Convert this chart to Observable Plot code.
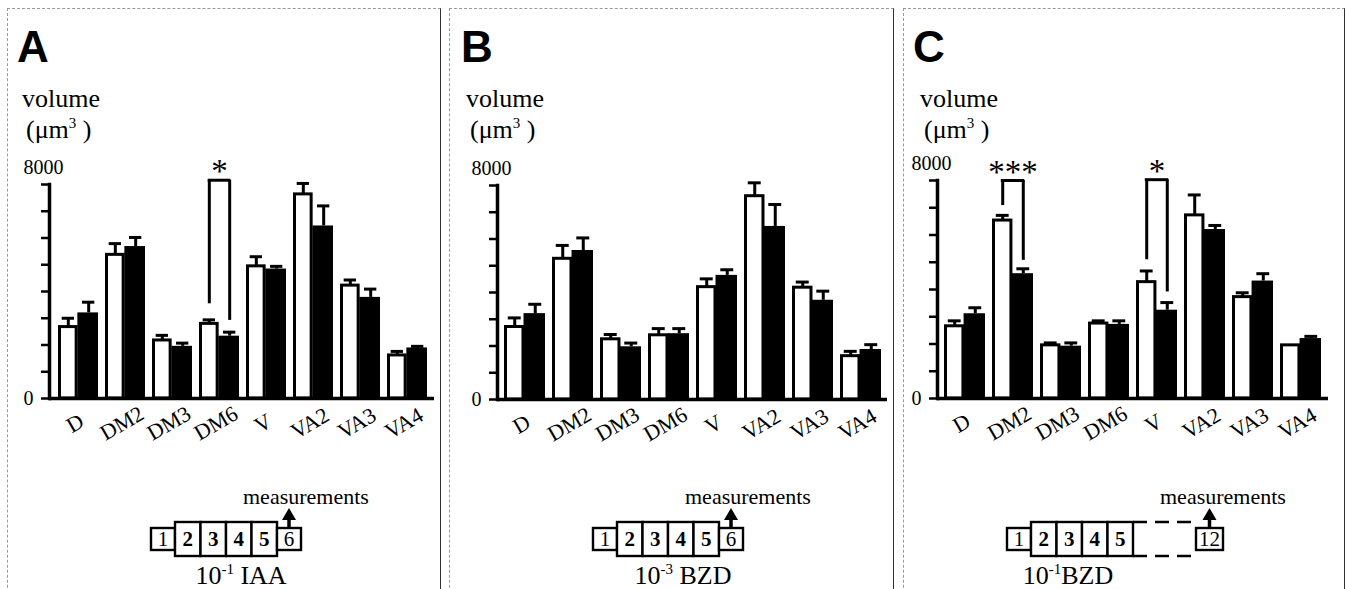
<!DOCTYPE html>
<html>
<head>
<meta charset="utf-8">
<script src="https://cdn.jsdelivr.net/npm/d3@7"></script>
<script src="https://cdn.jsdelivr.net/npm/@observablehq/plot@0.6"></script>
<style>
  html, body { margin: 0; padding: 0; background: #fff; }
  #root { position: relative; width: 1346px; height: 589px; overflow: hidden; background: #fff; }
  .frame { position: absolute; top: 8px; height: 640px; box-sizing: border-box;
           border-top: 1px dashed #9a9a9a; border-left: 1px dashed #9a9a9a; border-right: 1.5px solid #333; }
  .abs { position: absolute; }
</style>
</head>
<body>
<div id="root"></div>
<script>
// ---------------- data ----------------
const categories = ["D", "DM2", "DM3", "DM6", "V", "VA2", "VA3", "VA4"];
const yTicks = [0, 1000, 2000, 3000, 4000, 5000, 6000, 7000, 8000];
const yLabelValues = [0, 8000];

// Panel A: 10^-1 IAA
const A_white    = [2670, 5370, 2170, 2790, 4940, 7630, 4220, 1610];
const A_whiteSem = [ 330,  420,  190,  150,  360,  410,  210,  150];
const A_black    = [3200, 5680, 1950, 2330, 4840, 6450, 3780, 1890];
const A_blackSem = [ 400,  340,  120,  150,  100,  750,  310,   60];
const A_brackets = [{cat: "DM6", top: 8160, left: 3540, right: 2920, label: "*"}];

// Panel B: 10^-3 BZD
const B_white    = [2710, 5260, 2250, 2400, 4200, 7600, 4180, 1620];
const B_whiteSem = [ 340,  500,  180,  250,  310,  500,  210,  180];
const B_black    = [3210, 5570, 1970, 2460, 4640, 6470, 3710, 1870];
const B_blackSem = [ 350,  470,  140,  190,  210,  820,  340,  180];
const B_brackets = [];

// Panel C: 10^-1 BZD
const C_white    = [2650, 6530, 1950, 2750, 4270, 6720, 3720, 1950];
const C_whiteSem = [ 200,  190,   90,  100,  410,  750,  160,    0];
const C_black    = [3110, 4580, 1920, 2720, 3240, 6200, 4310, 2200];
const C_blackSem = [ 220,  180,  120,  130,  280,  150,  270,   80];
const C_brackets = [
  {cat: "DM2", top: 8000, left: 7080, right: 5070, label: "***"},
  {cat: "V",   top: 8030, left: 5090, right: 3910, label: "*"}
];

const panelLetters = ["A", "B", "C"];
const stepsShort = ["1", "2", "3", "4", "5", "6"];
const stepsLong  = ["1", "2", "3", "4", "5", "...", "12"];
const treatments = [
  {base: "10", exp: "-1", rest: " IAA"},
  {base: "10", exp: "-3", rest: " BZD"},
  {base: "10", exp: "-1", rest: "BZD"}
];
const yUnitLabel = "volume";
const arrowLabel = "measurements";

// ---------------- layout (page coordinates) ----------------
const SERIF = "Liberation Serif, Times New Roman, serif";
const SANS = "Liberation Sans, Arial, sans-serif";
const PLOT_TOP = 140, PLOT_H = 320;

const panels = [
  {letter: panelLetters[0], left: 7,   width: 434, axisX: 49,  barsL: 54,  barsR: 430,  axisEnd: 434,  top8000: 184, zero: 398,
   white: A_white, whiteSem: A_whiteSem, black: A_black, blackSem: A_blackSem, brackets: A_brackets,
   steps: stepsShort, treat: treatments[0], diagX: 151, measX: 243, treatX: 241, letterX: 17, volX: 22},
  {letter: panelLetters[1], left: 449, width: 445, axisX: 497, barsL: 503, barsR: 882,  axisEnd: 887,  top8000: 185, zero: 399,
   white: B_white, whiteSem: B_whiteSem, black: B_black, blackSem: B_blackSem, brackets: B_brackets,
   steps: stepsShort, treat: treatments[1], diagX: 593, measX: 685, treatX: 683, letterX: 461, volX: 466},
  {letter: panelLetters[2], left: 903, width: 442, axisX: 937, barsL: 942, barsR: 1322, axisEnd: 1328, top8000: 180, zero: 398,
   white: C_white, whiteSem: C_whiteSem, black: C_black, blackSem: C_blackSem, brackets: C_brackets,
   steps: stepsLong, treat: treatments[2], diagX: 1007, measX: 1160, treatX: 1068, letterX: 913, volX: 920}
];

const root = document.getElementById("root");

function makePlot(p) {
  const xRange = [p.barsL - p.left, p.barsR - p.left];
  const xs = d3.scaleBand(categories, xRange).paddingInner(0.15).paddingOuter(0);
  const bw = xs.bandwidth();
  const q = bw / 4;
  const cap = 6.5;
  const whiteRows = categories.map((c, i) => ({cat: c, value: p.white[i], sem: p.whiteSem[i]}));
  const blackRows = categories.map((c, i) => ({cat: c, value: p.black[i], sem: p.blackSem[i]}));
  const sw = 3;

  return Plot.plot({
    width: p.width,
    height: PLOT_H,
    marginLeft: p.axisX - p.left,
    marginRight: p.left + p.width - p.axisEnd,
    marginTop: p.top8000 - PLOT_TOP,
    marginBottom: PLOT_TOP + PLOT_H - p.zero,
    style: {fontFamily: SERIF, fontSize: "20px", background: "transparent", overflow: "visible", color: "#000"},
    x: {domain: categories, range: xRange, paddingInner: 0.15, paddingOuter: 0, axis: null},
    y: {domain: [0, 8000], axis: null},
    marks: [
      // bars
      Plot.barY(blackRows, {x: "cat", y: "value", fill: "#000", insetLeft: bw / 2 - 1}),
      Plot.barY(whiteRows, {x: "cat", y: "value", fill: "#fff", stroke: "#000", strokeWidth: sw, insetRight: bw / 2 + sw / 2, insetLeft: sw / 2}),
      // error bars
      Plot.ruleX(whiteRows.filter(d => d.sem > 0), {x: "cat", y1: "value", y2: d => d.value + d.sem, dx: -q, strokeWidth: sw}),
      Plot.tickY(whiteRows.filter(d => d.sem > 0), {x: "cat", y: d => d.value + d.sem, insetLeft: q - cap, insetRight: bw - q - cap, strokeWidth: sw}),
      Plot.ruleX(blackRows, {x: "cat", y1: "value", y2: d => d.value + d.sem, dx: q, strokeWidth: sw}),
      Plot.tickY(blackRows, {x: "cat", y: d => d.value + d.sem, insetLeft: bw - q - cap, insetRight: q - cap, strokeWidth: sw}),
      // significance brackets
      Plot.ruleX(p.brackets, {x: "cat", y1: "left", y2: "top", dx: -q, strokeWidth: sw}),
      Plot.ruleX(p.brackets, {x: "cat", y1: "right", y2: "top", dx: q, strokeWidth: sw}),
      Plot.tickY(p.brackets, {x: "cat", y: "top", insetLeft: q - sw / 2, insetRight: q - sw / 2, strokeWidth: sw}),
      Plot.text(p.brackets, {x: "cat", y: "top", text: "label", lineAnchor: "bottom", dy: 2, fontSize: 33, fontFamily: SERIF}),
      // axes
      Plot.ruleY([0], {strokeWidth: 3.5}),
      Plot.frame({anchor: "left", strokeWidth: 3.5}),
      Plot.axisY({ticks: yTicks, tickSize: 8, tickPadding: 8, strokeWidth: 2.5,
                  tickFormat: d => (d === yLabelValues[0] ? String(d) : ""), fontSize: 20}),
      Plot.text(yLabelValues.filter(v => v > 0), {y: d => d, text: d => String(d), frameAnchor: "left",
                  textAnchor: "start", lineAnchor: "bottom", dx: -26, dy: -11, fontSize: 20}),
      // category labels
      Plot.text(categories, {x: d => d, frameAnchor: "bottom", text: d => d, rotate: -30,
                  textAnchor: "middle", dy: 31, fontSize: 22})
    ]
  });
}

function makeOverlay(p) {
  const svg = d3.create("svg")
    .attr("width", p.width).attr("height", 589)
    .attr("font-family", SERIF)
    .style("position", "absolute").style("left", p.left + "px").style("top", "0px")
    .style("overflow", "visible");
  const L = p.left;
  svg.append("text").attr("x", p.letterX - L).attr("y", 62)
    .attr("font-family", SANS).attr("font-weight", "bold").attr("font-size", 44).text(p.letter);
  svg.append("text").attr("x", p.volX - L).attr("y", 107).attr("font-size", 26).text(yUnitLabel);
  const u = svg.append("text").attr("x", p.volX + 4 - L).attr("y", 138).attr("font-size", 26);
  u.append("tspan").text("(\u03bcm");
  u.append("tspan").attr("dy", -10).attr("font-size", 15).text("3");
  u.append("tspan").attr("dy", 10).text(" )");

  // process diagram
  const cy = 539, smallH = 22, tallH = 34;
  let x = p.diagX - L;
  let lastCenter = 0;
  const g = svg.append("g").attr("stroke", "#000").attr("stroke-width", 2.4);
  p.steps.forEach((s, i) => {
    if (s === "...") {
      const w = 63;
      [cy - tallH / 2, cy + tallH / 2].forEach(yy => {
        g.append("line").attr("x1", x).attr("x2", x + w).attr("y1", yy).attr("y2", yy)
          .attr("stroke-dasharray", "14,8");
      });
      x += w;
      return;
    }
    const tall = i >= 1 && i <= 4;
    const w = tall ? 25.5 : (s.length > 1 ? 27 : 24);
    const h = tall ? tallH : smallH;
    g.append("rect").attr("x", x).attr("y", cy - h / 2).attr("width", w).attr("height", h).attr("fill", "#fff");
    svg.append("text").attr("x", x + w / 2).attr("y", cy + 7).attr("text-anchor", "middle")
      .attr("font-size", 21).attr("font-weight", tall ? "bold" : "normal").text(s);
    lastCenter = x + w / 2;
    x += w;
  });
  // arrow
  const tipY = 508, baseY = 520, ax = lastCenter;
  svg.append("path").attr("d", `M${ax},${tipY} L${ax - 7},${baseY} L${ax + 7},${baseY} Z`).attr("fill", "#000");
  svg.append("line").attr("x1", ax).attr("x2", ax).attr("y1", baseY - 1).attr("y2", cy - smallH / 2)
    .attr("stroke", "#000").attr("stroke-width", 3.5);
  svg.append("text").attr("x", p.measX - L).attr("y", 504).attr("font-size", 22).text(arrowLabel);
  // treatment label
  const t = svg.append("text").attr("x", p.treatX - L).attr("y", 584).attr("font-size", 26).attr("text-anchor", "middle");
  t.append("tspan").text(p.treat.base);
  t.append("tspan").attr("dy", -10).attr("font-size", 15).text(p.treat.exp);
  t.append("tspan").attr("dy", 10).text(p.treat.rest);
  return svg.node();
}

for (const p of panels) {
  const fr = document.createElement("div");
  fr.className = "frame";
  fr.style.left = p.left + "px";
  fr.style.width = p.width + "px";
  root.appendChild(fr);

  const wrap = document.createElement("div");
  wrap.className = "abs";
  wrap.style.left = p.left + "px";
  wrap.style.top = PLOT_TOP + "px";
  wrap.appendChild(makePlot(p));
  root.appendChild(wrap);

  root.appendChild(makeOverlay(p));
}
</script>
</body>
</html>
